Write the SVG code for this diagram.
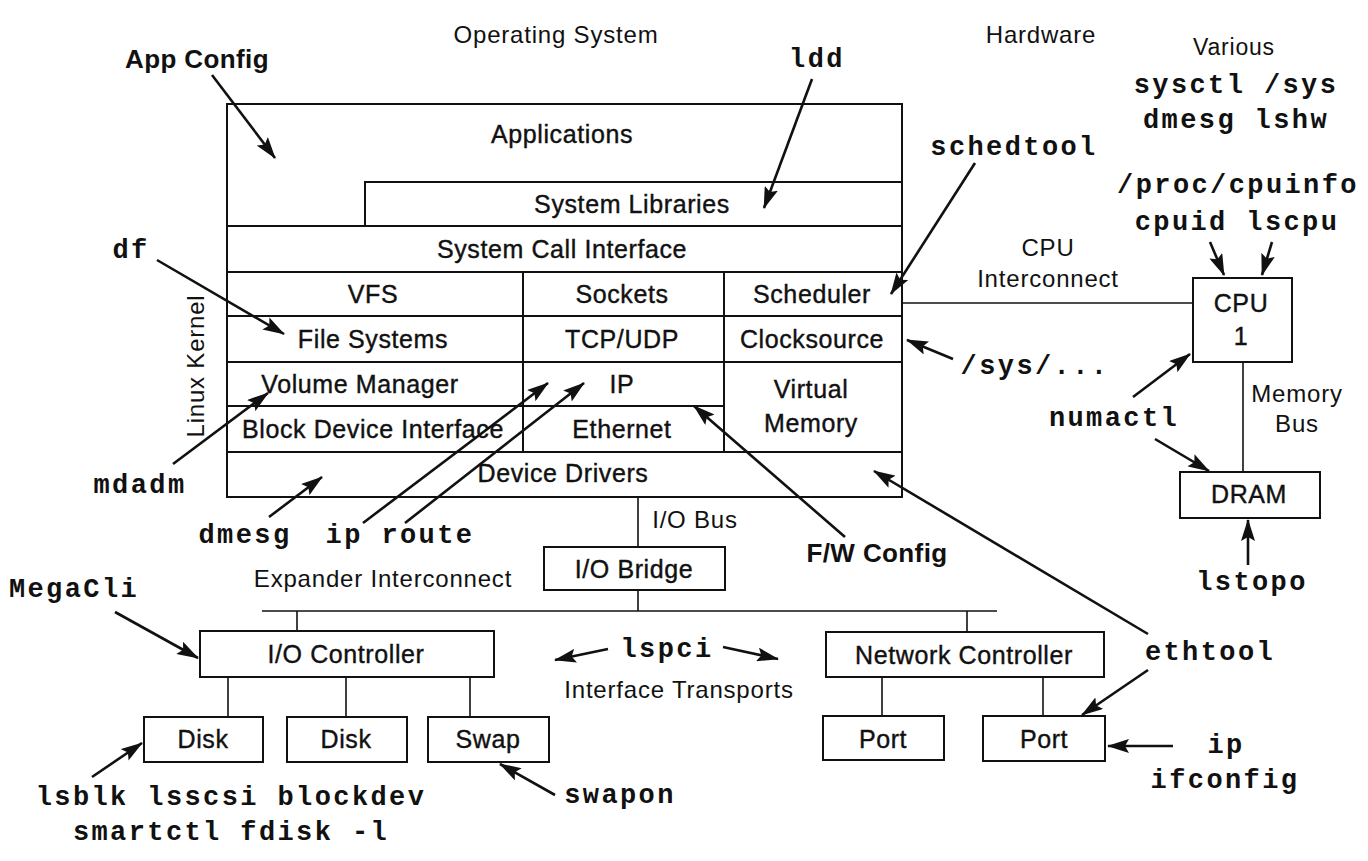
<svg xmlns="http://www.w3.org/2000/svg" width="1368" height="861" viewBox="0 0 1368 861">
<style>
.bg{fill:#fff}
.box{fill:#fff;stroke:#111;stroke-width:2}
.wire{fill:none;stroke:#111;stroke-width:1.6}
.arr{fill:none;stroke:#111;stroke-width:2.6;marker-end:url(#ah)}
.h{font-family:"Liberation Sans",Arial,sans-serif;font-size:24px;letter-spacing:0.8px;fill:#111;text-anchor:middle}
.n{font-family:"Liberation Sans",Arial,sans-serif;font-size:25px;letter-spacing:0.6px;fill:#111;stroke:#111;stroke-width:0.4;text-anchor:middle}
.b{font-family:"Liberation Sans",Arial,sans-serif;font-size:26px;font-weight:bold;letter-spacing:0.4px;fill:#111;text-anchor:middle}
.m{font-family:"Liberation Mono","Courier New",monospace;font-size:27px;font-weight:bold;letter-spacing:2.4px;fill:#111;text-anchor:middle}
</style>
<defs>
<marker id="ah" markerUnits="userSpaceOnUse" markerWidth="22" markerHeight="14" refX="21" refY="7" orient="auto">
<path d="M0,0 L22,7 L0,14 L4,7 z" fill="#111"/>
</marker>
</defs>
<rect class="bg" x="0" y="0" width="1368" height="861"/>

<!-- headers -->
<g id="headers">
<text class="h" x="556" y="43">Operating System</text>
<text class="h" x="1041" y="43">Hardware</text>
<text class="h" x="1234" y="55" style="font-size:23px">Various</text>
<text class="h" x="204" y="366" transform="rotate(-90 204 366)">Linux Kernel</text>
</g>

<!-- kernel stack -->
<g id="applications"><path class="box" d="M227,104 H902 V182 H365 V226 H227 Z"/><text class="n" x="562" y="143">Applications</text></g>
<g id="system-libraries"><rect class="box" x="365" y="182" width="537" height="44"/><text class="n" x="632" y="213">System Libraries</text></g>
<g id="system-call-interface"><rect class="box" x="227" y="226" width="675" height="46"/><text class="n" x="562" y="258">System Call Interface</text></g>
<g id="vfs"><rect class="box" x="227" y="272" width="296" height="44"/><text class="n" x="373" y="303">VFS</text></g>
<g id="sockets"><rect class="box" x="523" y="272" width="201" height="44"/><text class="n" x="622" y="303">Sockets</text></g>
<g id="scheduler"><rect class="box" x="724" y="272" width="178" height="44"/><text class="n" x="812" y="303">Scheduler</text></g>
<g id="file-systems"><rect class="box" x="227" y="316" width="296" height="46"/><text class="n" x="373" y="348">File Systems</text></g>
<g id="tcp-udp"><rect class="box" x="523" y="316" width="201" height="46"/><text class="n" x="622" y="348">TCP/UDP</text></g>
<g id="clocksource"><rect class="box" x="724" y="316" width="178" height="46"/><text class="n" x="812" y="348">Clocksource</text></g>
<g id="volume-manager"><rect class="box" x="227" y="362" width="296" height="44"/><text class="n" x="360" y="393">Volume Manager</text></g>
<g id="ip-layer"><rect class="box" x="523" y="362" width="201" height="44"/><text class="n" x="622" y="393">IP</text></g>
<g id="virtual-memory"><rect class="box" x="724" y="362" width="178" height="90"/><text class="n" x="811" y="398">Virtual</text><text class="n" x="811" y="432">Memory</text></g>
<g id="block-device-interface"><rect class="box" x="227" y="406" width="296" height="46"/><text class="n" x="373" y="438">Block Device Interface</text></g>
<g id="ethernet"><rect class="box" x="523" y="406" width="201" height="46"/><text class="n" x="622" y="438">Ethernet</text></g>
<g id="device-drivers"><rect class="box" x="227" y="452" width="675" height="45"/><text class="n" x="563" y="482">Device Drivers</text></g>

<!-- hardware -->
<g id="cpu"><rect class="box" x="1193" y="278" width="99" height="84"/><text class="n" x="1241" y="312">CPU</text><text class="n" x="1241" y="345">1</text></g>
<g id="dram"><rect class="box" x="1180" y="472" width="140" height="46"/><text class="n" x="1249" y="503">DRAM</text></g>
<g id="io-bridge"><rect class="box" x="544" y="547" width="181" height="43"/><text class="n" x="634" y="578">I/O Bridge</text></g>
<g id="io-controller"><rect class="box" x="200" y="631" width="294" height="46"/><text class="n" x="346" y="663">I/O Controller</text></g>
<g id="disk1"><rect class="box" x="144" y="717" width="119" height="45"/><text class="n" x="203" y="748">Disk</text></g>
<g id="disk2"><rect class="box" x="287" y="717" width="120" height="45"/><text class="n" x="346" y="748">Disk</text></g>
<g id="swap"><rect class="box" x="428" y="717" width="121" height="45"/><text class="n" x="488" y="748">Swap</text></g>
<g id="network-controller"><rect class="box" x="826" y="632" width="278" height="45"/><text class="n" x="964" y="664">Network Controller</text></g>
<g id="port1"><rect class="box" x="823" y="716" width="121" height="44"/><text class="n" x="883" y="748">Port</text></g>
<g id="port2"><rect class="box" x="983" y="716" width="122" height="45"/><text class="n" x="1044" y="748">Port</text></g>

<!-- bus labels -->
<g id="bus-labels">
<text class="h" x="1048" y="256">CPU</text>
<text class="h" x="1048" y="287">Interconnect</text>
<text class="h" x="1297" y="402">Memory</text>
<text class="h" x="1297" y="432">Bus</text>
<text class="h" x="695" y="528">I/O Bus</text>
<text class="h" x="383" y="587">Expander Interconnect</text>
<text class="h" x="679" y="698">Interface Transports</text>
</g>

<!-- tool labels -->
<g id="tools">
<text class="b" x="197" y="68">App Config</text>
<text class="m" x="817" y="67">ldd</text>
<text class="m" x="1236" y="93">sysctl /sys</text>
<text class="m" x="1236" y="128">dmesg lshw</text>
<text class="m" x="1014" y="155">schedtool</text>
<text class="m" x="1238" y="193">/proc/cpuinfo</text>
<text class="m" x="1237" y="230">cpuid lscpu</text>
<text class="m" x="131" y="258">df</text>
<text class="m" x="1035" y="374">/sys/...</text>
<text class="m" x="1114" y="426">numactl</text>
<text class="m" x="140" y="493">mdadm</text>
<text class="m" x="245" y="543">dmesg</text>
<text class="m" x="400" y="543">ip route</text>
<text class="b" x="877" y="562">F/W Config</text>
<text class="m" x="1252" y="590">lstopo</text>
<text class="m" x="74" y="597">MegaCli</text>
<text class="m" x="667" y="657">lspci</text>
<text class="m" x="1210" y="660">ethtool</text>
<text class="m" x="1226" y="753">ip</text>
<text class="m" x="1225" y="788">ifconfig</text>
<text class="m" x="620" y="803">swapon</text>
<text class="m" x="231" y="805">lsblk lsscsi blockdev</text>
<text class="m" x="231" y="840">smartctl fdisk -l</text>
</g>

<!-- connectors -->
<g id="connectors">
<path class="wire" d="M902,303 H1193"/>
<path class="wire" d="M1243,362 V472"/>
<path class="wire" d="M638,497 V547"/>
<path class="wire" d="M638,590 V611"/>
<path class="wire" d="M262,611 H997"/>
<path class="wire" d="M297,611 V631"/>
<path class="wire" d="M967,611 V632"/>
<path class="wire" d="M228,677 V717"/>
<path class="wire" d="M346,677 V717"/>
<path class="wire" d="M470,677 V717"/>
<path class="wire" d="M882,677 V716"/>
<path class="wire" d="M1043,677 V716"/>

<path class="arr" d="M212,75 L275,158"/>
<path class="arr" d="M812,79 L764,208"/>
<path class="arr" d="M975,163 L891,294"/>
<path class="arr" d="M1210,242 L1224,275"/>
<path class="arr" d="M1272,242 L1262,275"/>
<path class="arr" d="M157,260 L284,334"/>
<path class="arr" d="M953,359 L907,340"/>
<path class="arr" d="M1133,397 L1190,354"/>
<path class="arr" d="M1155,439 L1209,471"/>
<path class="arr" d="M173,464 L268,393"/>
<path class="arr" d="M269,517 L322,477"/>
<path class="arr" d="M363,523 L548,383"/>
<path class="arr" d="M405,523 L584,383"/>
<path class="arr" d="M845,537 L694,406"/>
<path class="arr" d="M1248,565 L1248,520"/>
<path class="arr" d="M1148,634 L874,471"/>
<path class="arr" d="M1148,670 L1082,715"/>
<path class="arr" d="M1173,746 L1108,746"/>
<path class="arr" d="M115,612 L198,658"/>
<path class="arr" d="M608,649 L555,660"/>
<path class="arr" d="M723,647 L778,659"/>
<path class="arr" d="M92,777 L142,743"/>
<path class="arr" d="M555,795 L500,764"/>
</g>
</svg>
